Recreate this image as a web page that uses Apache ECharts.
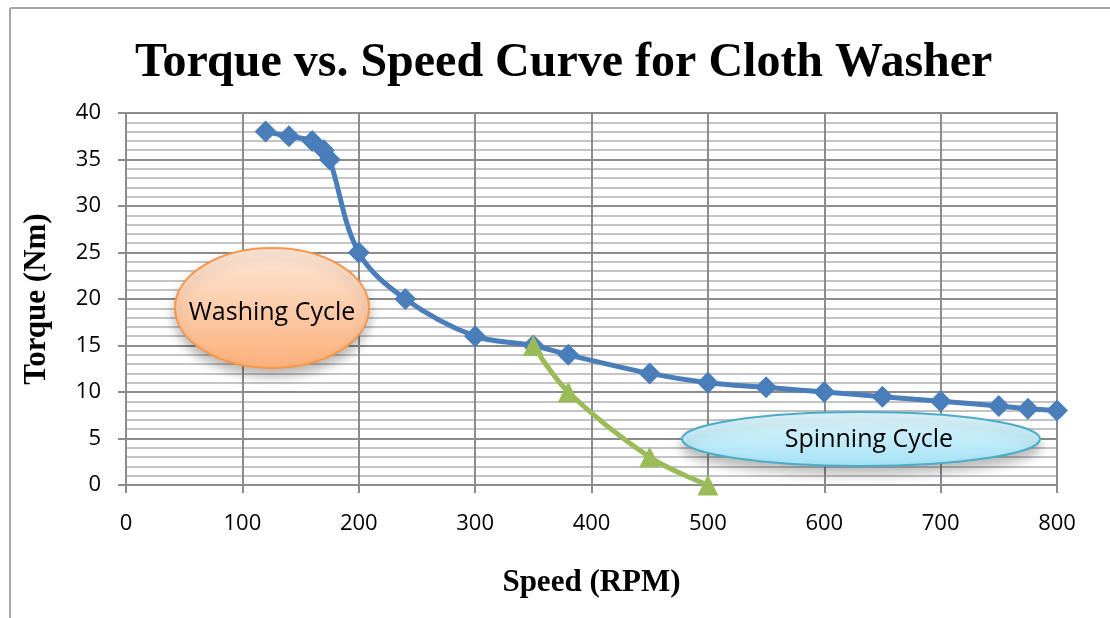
<!DOCTYPE html>
<html>
<head>
<meta charset="utf-8">
<script src="https://cdn.jsdelivr.net/npm/echarts@6/dist/echarts.min.js"></script>
<style>html,body{margin:0;padding:0;background:#fff;}#c{width:1110px;height:618px;}</style>
</head>
<body>
<div id="c"></div>
<script>
var washSpeed = [120, 140, 160, 170, 175, 200, 240, 300, 350, 380, 450, 500, 550, 600, 650, 700, 750, 775, 800];
var washTorque = [38, 37.5, 37, 36, 35, 25, 20, 16, 15, 14, 12, 11, 10.5, 10, 9.5, 9, 8.5, 8.2, 8];
var spinSpeed = [350, 380, 450, 500];
var spinTorque = [15, 10, 3, 0];
var xTicks = [0, 100, 200, 300, 400, 500, 600, 700, 800];
var yTicks = [0, 5, 10, 15, 20, 25, 30, 35, 40];

function pairs(xs, ys) { return xs.map(function (x, i) { return [x, ys[i]]; }); }

var chart = echarts.init(document.getElementById('c'));
var serif = '"Liberation Serif", "Times New Roman", serif';
var sans = '"Open Sans", "Liberation Sans", sans-serif';
chart.setOption({
  animation: false,
  title: {
    text: 'Torque vs. Speed Curve for Cloth Washer',
    left: 130, top: 35,
    textStyle: { fontFamily: serif, fontWeight: 'bold', fontSize: 48, color: '#000' }
  },
  grid: { left: 126, right: 53, top: 113, bottom: 133, show: true, borderColor: '#8c8c8c', borderWidth: 2 },
  xAxis: {
    type: 'value', min: xTicks[0], max: xTicks[xTicks.length - 1], interval: 100,
    name: 'Speed (RPM)', nameLocation: 'middle', nameGap: 82,
    nameTextStyle: { fontFamily: serif, fontWeight: 'bold', fontSize: 31, color: '#000' },
    axisLine: { lineStyle: { color: '#8c8c8c', width: 2 } },
    axisTick: { length: 8, lineStyle: { color: '#8c8c8c', width: 2 } },
    axisLabel: { fontFamily: sans, fontSize: 22, color: '#000', margin: 28 },
    splitLine: { show: true, lineStyle: { color: '#8c8c8c', width: 2 } }
  },
  yAxis: {
    type: 'value', min: yTicks[0], max: yTicks[yTicks.length - 1], interval: 5,
    name: 'Torque (Nm)', nameLocation: 'middle', nameGap: 74,
    nameTextStyle: { fontFamily: serif, fontWeight: 'bold', fontSize: 31, color: '#000' },
    axisLine: { show: true, lineStyle: { color: '#8c8c8c', width: 2 } },
    axisTick: { show: true, length: 8, lineStyle: { color: '#8c8c8c', width: 2 } },
    axisLabel: { fontFamily: sans, fontSize: 22, color: '#000', margin: 25 },
    splitLine: { show: true, lineStyle: { color: '#8c8c8c', width: 2 } },
    minorTick: { show: false, splitNumber: 5 },
    minorSplitLine: { show: true, lineStyle: { color: '#c4c4c4', width: 2 } }
  },
  series: [
    {
      type: 'line', data: pairs(washSpeed, washTorque), smooth: 0.35,
      symbol: 'diamond', symbolSize: 22,
      lineStyle: { color: '#4a7ebb', width: 5 },
      itemStyle: { color: '#4a7ebb' }, z: 3
    },
    {
      type: 'line', data: pairs(spinSpeed, spinTorque), smooth: 0.35,
      symbol: 'triangle', symbolSize: 21,
      lineStyle: { color: '#9bbb59', width: 5 },
      itemStyle: { color: '#9bbb59' }, z: 4
    }
  ],
  graphic: [
    { type: 'line', shape: { x1: 10, y1: 8, x2: 10, y2: 618 }, style: { stroke: '#a6a6a6', lineWidth: 2 } },
    { type: 'line', shape: { x1: 10, y1: 8, x2: 1110, y2: 8 }, style: { stroke: '#a6a6a6', lineWidth: 2 } },
    {
      type: 'ellipse', shape: { cx: 272, cy: 308, rx: 97, ry: 60 }, z: 10,
      style: {
        fill: { type: 'linear', x: 0, y: 0, x2: 0, y2: 1, colorStops: [{ offset: 0, color: '#fde8da' }, { offset: 1, color: '#fab07a' }] },
        stroke: '#f79646', lineWidth: 2,
        shadowBlur: 12, shadowOffsetY: 7, shadowColor: 'rgba(0,0,0,0.28)'
      }
    },
    {
      type: 'text', x: 272, y: 313, z: 11,
      style: { text: 'Washing Cycle', fontFamily: sans, fontSize: 25, fill: '#000', textAlign: 'center', textVerticalAlign: 'middle' }
    },
    {
      type: 'ellipse', shape: { cx: 861, cy: 439, rx: 179, ry: 27 }, z: 10,
      style: {
        fill: { type: 'linear', x: 0, y: 0, x2: 0, y2: 1, colorStops: [{ offset: 0, color: '#e2f6fc' }, { offset: 1, color: '#a4e2f6' }] },
        stroke: '#4bacc6', lineWidth: 2,
        shadowBlur: 12, shadowOffsetY: 7, shadowColor: 'rgba(0,0,0,0.28)'
      }
    },
    {
      type: 'text', x: 869, y: 440, z: 11,
      style: { text: 'Spinning Cycle', fontFamily: sans, fontSize: 25, fill: '#000', textAlign: 'center', textVerticalAlign: 'middle' }
    }
  ]
});
</script>
</body>
</html>
